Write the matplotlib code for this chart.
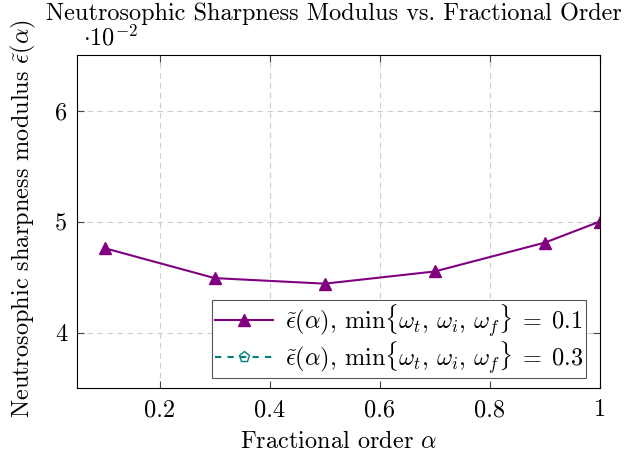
import matplotlib
matplotlib.use("Agg")
import matplotlib.pyplot as plt

plt.rcParams['font.family'] = 'serif'
plt.rcParams['font.serif'] = ['cmr10', 'DejaVu Serif']
plt.rcParams['mathtext.fontset'] = 'cm'
plt.rcParams['axes.unicode_minus'] = False

alpha = [0.1, 0.3, 0.5, 0.7, 0.9, 1.0]
eps_01 = [4.76, 4.49, 4.44, 4.55, 4.81, 5.00]   # x 1e-2
alpha_03 = []
eps_03 = []
xticks = [0.2, 0.4, 0.6, 0.8, 1.0]
xticklabels = ['0.2', '0.4', '0.6', '0.8', '1']
yticks = [4, 5, 6]

FS = 17.5
fig = plt.figure(figsize=(6.3, 4.55), dpi=100)
ax = fig.add_axes([77/630, 1-388/455, (600-77)/630, (388-55)/455])

ax.plot(alpha, eps_01, color='#800080', lw=1.5, marker='^', ms=9,
        label=r'$\tilde{\epsilon}(\alpha)$, $\min\{\omega_t,\,\omega_i,\,\omega_f\}\;=\;0.1$')
ax.plot(alpha_03, eps_03, color='#008080', lw=1.5, ls=(0, (3, 3)), marker='p',
        mfc='none', ms=8,
        label=r'$\tilde{\epsilon}(\alpha)$, $\min\{\omega_t,\,\omega_i,\,\omega_f\}\;=\;0.3$')

ax.set_xlim(0.05, 1.0)
ax.set_ylim(3.5, 6.5)
ax.set_xticks(xticks)
ax.set_xticklabels(xticklabels)
ax.set_yticks(yticks)
ax.tick_params(direction='in', top=True, right=True, labelsize=FS, length=5,
               color='#444444')
ax.tick_params(axis='x', pad=8)
ax.tick_params(axis='y', pad=7)
ax.grid(True, ls=(0, (5, 4)), color='#cccccc', lw=0.8)
for s in ax.spines.values():
    s.set_linewidth(0.8)

ax.set_xlabel(r'Fractional order $\alpha$', fontsize=FS)
ax.xaxis.set_label_coords(0.5, (388-431)/333)
ax.set_ylabel(r'Neutrosophic sharpness modulus $\tilde{\epsilon}(\alpha)$', fontsize=FS)
ax.yaxis.set_label_coords((38-77)/523, (388-219)/333)

fig.text(334/630, 1-14/455, 'Neutrosophic Sharpness Modulus vs. Fractional Order',
         ha='center', va='center', fontsize=FS)
fig.text(83/630, 1-38/455, r'$\cdot 10^{-2}$', ha='left', va='center', fontsize=FS)

leg = ax.legend(loc='lower right', fontsize=FS, frameon=True, fancybox=False,
                edgecolor='#555555', framealpha=1, borderpad=0.1, handlelength=2.4,
                handletextpad=0.5, labelspacing=0.0, borderaxespad=0,
                bbox_to_anchor=((586-77)/523, (388-378)/333))
leg.get_frame().set_linewidth(0.8)

fig.savefig('out.png', dpi=100)
